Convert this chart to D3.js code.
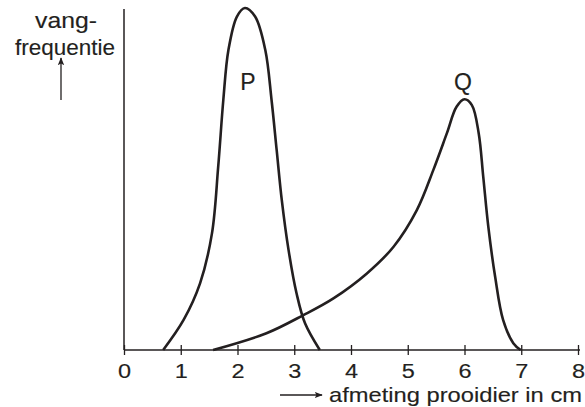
<!DOCTYPE html>
<html>
<head>
<meta charset="utf-8">
<script src="https://cdn.jsdelivr.net/npm/d3@7"></script>
<style>
  body { margin: 0; background: #fff; }
  text { font-family: "Liberation Sans", Arial, sans-serif; fill: #231f20; stroke: #231f20; stroke-width: 0.15px; }
</style>
</head>
<body>
<div id="chart"></div>
<script>
// tick labels on the size axis
var xTicks = [0, 1, 2, 3, 4, 5, 6, 7, 8];

// curve P (size in cm, catch frequency as % of P's peak)
var pSize = [0.69, 1.05, 1.34, 1.55, 1.66, 1.75, 1.84, 1.99, 2.13, 2.31, 2.49, 2.60, 2.69, 2.78, 2.90, 3.04, 3.19, 3.45];
var pFreq = [0, 8.8, 19.5, 34.1, 53.6, 73.1, 87.7, 97.5, 100, 97.5, 87.7, 73.1, 58.5, 43.9, 29.2, 16.6, 7.8, 0];

// curve Q
var qSize = [1.57, 2.51, 3.16, 3.69, 4.28, 4.75, 5.16, 5.45, 5.69, 5.86, 6.00, 6.13, 6.25, 6.33, 6.42, 6.54, 6.68, 6.86, 6.99];
var qFreq = [0, 4.9, 10.2, 15.1, 22.4, 30.2, 40.9, 52.6, 63.4, 71.1, 73.3, 71.6, 63.4, 50.7, 36, 21.4, 8.8, 2, 0];

var svgWidth = 585;
var svgHeight = 407;
var ink = "#231f20";

var svg = d3.select("#chart")
  .append("svg")
  .attr("width", svgWidth)
  .attr("height", svgHeight);

// scales
var xScale = d3.scaleLinear().domain([0, 8]).range([124, 578]);
var yScale = d3.scaleLinear().domain([0, 100]).range([350, 8]);

// arrow head marker
svg.append("defs").append("marker")
  .attr("id", "head")
  .attr("viewBox", "0 0 10 10")
  .attr("refX", 9)
  .attr("refY", 5)
  .attr("markerWidth", 8)
  .attr("markerHeight", 8)
  .attr("markerUnits", "userSpaceOnUse")
  .attr("orient", "auto")
  .append("path")
  .attr("d", "M0,1 L10,5 L0,9 L2,5 Z")
  .attr("fill", ink);

// y axis: plain line
svg.append("line")
  .attr("x1", xScale(0)).attr("x2", xScale(0))
  .attr("y1", 9).attr("y2", yScale(0))
  .attr("stroke", ink)
  .attr("stroke-width", 1.5);

// x axis with ticks crossing the line
var bottomAxis = d3.axisBottom(xScale)
  .tickValues(xTicks)
  .tickSize(5)
  .tickSizeOuter(0)
  .tickFormat(d3.format("d"));

var xAxis = svg.append("g")
  .attr("transform", `translate(0, ${yScale(0)})`)
  .call(bottomAxis);

xAxis.select(".domain")
  .attr("d", `M${xScale(0)},0H${xScale(8) + 2}`)
  .attr("stroke", ink)
  .attr("stroke-width", 1.5);

xAxis.selectAll(".tick line")
  .attr("y1", -5)
  .attr("y2", 5)
  .attr("stroke", ink)
  .attr("stroke-width", 1.3);

xAxis.selectAll(".tick text")
  .attr("y", 28)
  .attr("dy", null)
  .attr("font-size", "21px")
  .attr("font-family", "Liberation Sans, Arial, sans-serif")
  .attr("fill", ink)
  .attr("transform", "scale(1.12,1)")
  .attr("x", 0);

// curves
var line = d3.line()
  .x(d => xScale(d[0]))
  .y(d => yScale(d[1]))
  .curve(d3.curveCatmullRom.alpha(0.5));

var pData = pSize.map((s, i) => [s, pFreq[i]]);
var qData = qSize.map((s, i) => [s, qFreq[i]]);

[pData, qData].forEach(function(data) {
  svg.append("path")
    .datum(data)
    .attr("d", line)
    .attr("fill", "none")
    .attr("stroke", ink)
    .attr("stroke-width", 2.6);
});

// curve labels
svg.append("text")
  .attr("x", 248).attr("y", 90)
  .attr("text-anchor", "middle")
  .attr("font-size", "23px")
  .text("P");

svg.append("text")
  .attr("x", 463).attr("y", 90)
  .attr("text-anchor", "middle")
  .attr("font-size", "23px")
  .text("Q");

// y label with arrow
svg.append("text")
  .attr("x", 35).attr("y", 28)
  .attr("font-size", "22px")
  .attr("textLength", 62)
  .attr("lengthAdjust", "spacingAndGlyphs")
  .text("vang-");

svg.append("text")
  .attr("x", 15).attr("y", 55)
  .attr("font-size", "22px")
  .attr("textLength", 100)
  .attr("lengthAdjust", "spacingAndGlyphs")
  .text("frequentie");

svg.append("line")
  .attr("x1", 61).attr("x2", 61)
  .attr("y1", 100).attr("y2", 58)
  .attr("stroke", ink)
  .attr("stroke-width", 1.3)
  .attr("marker-end", "url(#head)");

// x label with arrow
svg.append("line")
  .attr("x1", 280).attr("x2", 322)
  .attr("y1", 395).attr("y2", 395)
  .attr("stroke", ink)
  .attr("stroke-width", 1.3)
  .attr("marker-end", "url(#head)");

svg.append("text")
  .attr("x", 329).attr("y", 402)
  .attr("font-size", "21px")
  .attr("textLength", 253)
  .attr("lengthAdjust", "spacingAndGlyphs")
  .text("afmeting prooidier in cm");
</script>
</body>
</html>
